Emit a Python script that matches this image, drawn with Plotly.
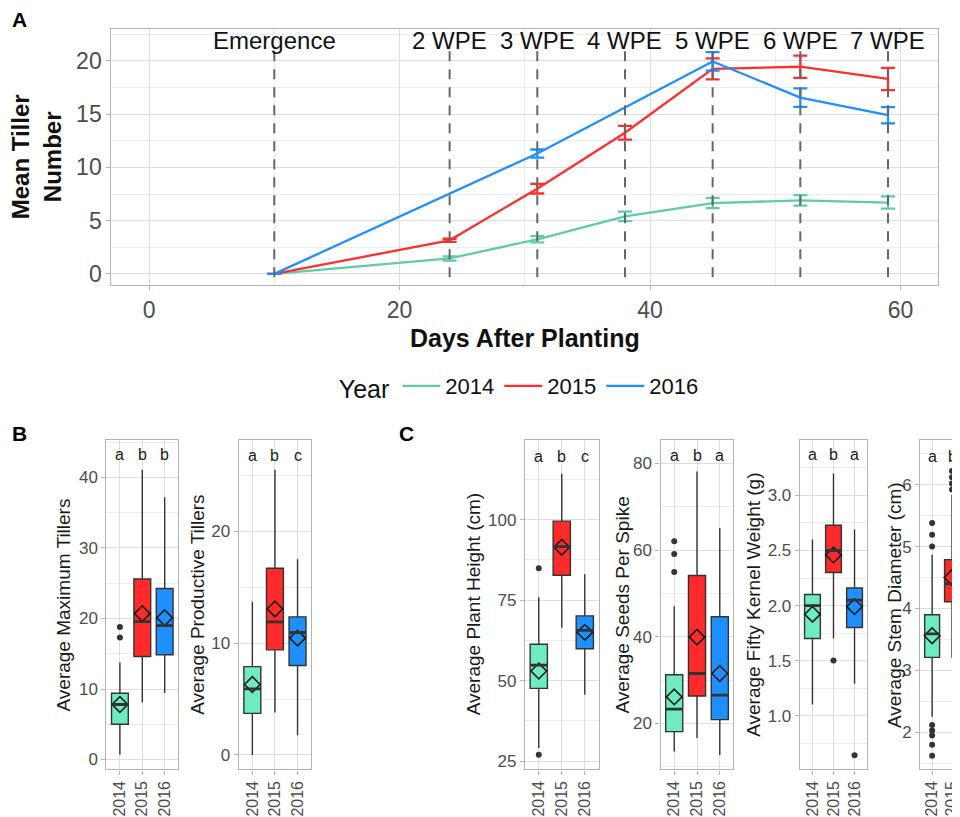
import plotly.graph_objects as go

# The page body has an 8px default margin, so the figure is drawn 8px smaller and
# all reference pixel positions are shifted by that offset.
OFF = 8
W, H = 960 - OFF, 817 - OFF
FONT = "Liberation Sans, Arial, sans-serif"

# ---------------- Panel A data ----------------
years = ["2014", "2015", "2016"]
line_colors = ["#5FCCA3", "#FF2E2E", "#1E8FFF"]
box_colors = ["#6EEBC3", "#FF2A2A", "#1E8FFF"]

days_2014 = [10, 24, 31, 38, 45, 52, 59]
tiller_2014 = [0, 1.45, 3.25, 5.4, 6.65, 6.9, 6.7]
err_2014 = [0, 0.2, 0.3, 0.45, 0.48, 0.5, 0.58]

days_2015 = [10, 24, 31, 38, 45, 52, 59]
tiller_2015 = [0, 3.15, 8.0, 13.25, 19.25, 19.45, 18.3]
err_2015 = [0, 0.15, 0.45, 0.65, 0.98, 1.04, 1.04]

days_2016 = [10, 31, 45, 52, 59]
tiller_2016 = [0, 11.3, 19.95, 16.55, 14.9]
err_2016 = [0, 0.38, 0.87, 0.87, 0.76]

stage_days = [10, 24, 31, 38, 45, 52, 59]
stage_labels = ["Emergence", "2 WPE", "3 WPE", "4 WPE", "5 WPE", "6 WPE", "7 WPE"]

# ---------------- Panel B / C box data ----------------
max_tillers = dict(
    q1=[5.0, 14.6, 14.85], med=[7.8, 19.55, 19.0], q3=[9.4, 25.6, 24.25],
    lo=[0.7, 8.1, 9.45], hi=[13.75, 41.1, 37.2], mean=[7.8, 20.7, 20.1],
    out=[[17.3, 18.8], [], []], letters=["a", "b", "b"])
prod_tillers = dict(
    q1=[3.72, 9.4, 8.0], med=[5.9, 11.9, 10.95], q3=[7.9, 16.7, 12.35],
    lo=[0.0, 3.8, 1.75], hi=[13.7, 25.5, 17.5], mean=[6.3, 13.05, 10.45],
    out=[[], [], []], letters=["a", "b", "c"])
plant_height = dict(
    q1=[47.6, 82.7, 59.9], med=[54.8, 91.6, 65.6], q3=[61.3, 99.5, 70.1],
    lo=[29.1, 66.4, 45.6], hi=[75.9, 114.2, 83.0], mean=[53.0, 91.4, 65.0],
    out=[[84.9, 27.0], [], []], letters=["a", "b", "c"])
seeds_spike = dict(
    q1=[18.1, 26.3, 20.85], med=[23.3, 31.5, 26.5], q3=[31.2, 54.1, 44.6],
    lo=[13.5, 16.6, 12.7], hi=[47.0, 78.1, 65.1], mean=[26.1, 39.9, 31.5],
    out=[[54.9, 59.1, 62.0], [], []], letters=["a", "b", "a"])
kernel_weight = dict(
    q1=[1.70, 2.30, 1.80], med=[2.0, 2.50, 2.05], q3=[2.10, 2.73, 2.16],
    lo=[1.10, 1.70, 1.29], hi=[2.60, 3.20, 2.69], mean=[1.92, 2.46, 1.99],
    out=[[], [1.5], [0.64]], letters=["a", "b", "a"])
stem_years = ["2014", "2015"]
stem_diameter = dict(
    q1=[3.21, 4.11], med=[3.59, 4.40], q3=[3.90, 4.79],
    lo=[2.25, 3.2], hi=[4.87, 5.84], mean=[3.56, 4.5],
    out=[[5.0, 5.19, 5.38, 2.12, 2.03, 1.95, 1.80, 1.62], [5.92, 6.02, 6.12, 6.22]],
    letters=["a", "b"])

# ---------------- layout helpers ----------------
def px_x(p):
    return (p - OFF) / W

def px_y(p):
    return 1 - (p - OFF) / H

GRID = "#DEDEDE"
MINOR = "#EDEDED"
BORDER = "#B3B3B3"
TICKC = "#4D4D4D"
BOXLINE = "#333333"

def base_axis(**kw):
    d = dict(showline=True, mirror=True, linecolor=BORDER, linewidth=1.3,
             showgrid=True, gridcolor=GRID, gridwidth=1, zeroline=False,
             ticks="outside", ticklen=4, tickcolor=BORDER, tickwidth=1,
             tickfont=dict(family=FONT, color=TICKC))
    d.update(kw)
    return d

fig = go.Figure()
annotations = []
shapes = []
layout_axes = {}

# Panel A lines
series = [(days_2014, tiller_2014, err_2014), (days_2015, tiller_2015, err_2015),
          (days_2016, tiller_2016, err_2016)]
for yr, col, (dx, vy, ey) in zip(years, line_colors, series):
    fig.add_trace(go.Scatter(
        x=dx, y=vy, mode="lines", name=yr,
        line=dict(color=col, width=2.3),
        error_y=dict(type="data", array=ey, color=col, thickness=2.3, width=7),
        xaxis="x", yaxis="y"))

# Panels B/C
panels = [
    ("2", max_tillers, years, [-1.41, 45.3], dict(tickvals=[0, 10, 20, 30, 40]), 5, 43.2,
     [107, 179], "Average Maximum Tillers", 64),
    ("3", prod_tillers, years, [-1.30, 28.16], dict(tickvals=[0, 10, 20]), 5, 26.8,
     [240, 312.7], "Average Productive Tillers", 199),
    ("4", plant_height, years, [22.44, 124.66], dict(tickvals=[25, 50, 75, 100]), 12.5, 119.7,
     [527.7, 601.7], "Average Plant Height (cm)", 476),
    ("5", seeds_spike, years, [9.36, 85.36], dict(tickvals=[20, 40, 60, 80]), 10, 81.8,
     [664, 737.3], "Average Seeds Per Spike", 626),
    ("6", kernel_weight, years, [0.511, 3.503],
     dict(tickvals=[1.0, 1.5, 2.0, 2.5, 3.0], ticktext=["1.0", "1.5", "2.0", "2.5", "3.0"]),
     0.25, 3.37, [804, 871.7], "Average Fifty Kernel Weight (g)", 758),
    ("7", stem_diameter, stem_years, [1.40, 6.72], dict(tickvals=[2, 3, 4, 5, 6]), 0.5, 6.46,
     [925, 960], "Average Stem Diameter (cm)", 899),
]

BY0, BY1 = 441.7, 772.3
BOXW = 0.75

for (n, d, cats, yr_range, ticks, minor_dt, letter_y, xpx, title, title_x) in panels:
    xa, ya = "x" + n, "y" + n
    for i, c in enumerate(cats):
        fig.add_trace(go.Box(
            x=[c], q1=[d["q1"][i]], median=[d["med"][i]], q3=[d["q3"][i]],
            lowerfence=[d["lo"][i]], upperfence=[d["hi"][i]],
            fillcolor=box_colors[i], line=dict(color=BOXLINE, width=1.4),
            width=BOXW, whiskerwidth=0, boxpoints=False, showlegend=False,
            hoverinfo="skip", xaxis=xa, yaxis=ya))
        # thicker median line (ggplot style)
        shapes.append(dict(type="line", xref=xa, yref=ya,
                           x0=i - BOXW / 2, x1=i + BOXW / 2,
                           y0=d["med"][i], y1=d["med"][i],
                           line=dict(color=BOXLINE, width=2.8), layer="above"))
        if d["out"][i]:
            fig.add_trace(go.Scatter(
                x=[c] * len(d["out"][i]), y=d["out"][i], mode="markers",
                marker=dict(color="#333333", size=6), showlegend=False,
                hoverinfo="skip", xaxis=xa, yaxis=ya))
        annotations.append(dict(x=i, y=letter_y, xref=xa, yref=ya, text=d["letters"][i],
                                showarrow=False, xanchor="center", yanchor="middle",
                                font=dict(family=FONT, size=16, color="#1a1a1a")))
    fig.add_trace(go.Scatter(
        x=cats, y=d["mean"], mode="markers",
        marker=dict(symbol="diamond-open", size=12, color="#1a1a1a", line=dict(width=1.6)),
        showlegend=False, hoverinfo="skip", xaxis=xa, yaxis=ya))

    if n == "7":
        xr = [-0.6, -0.6 + 35 / 20.0]
    else:
        xr = [-0.6, 2.6]
    layout_axes["xaxis" + n] = base_axis(
        domain=[px_x(xpx[0]), min(1.0, px_x(xpx[1]))], anchor=ya, type="category",
        categoryorder="array", categoryarray=cats, range=xr,
        tickangle=-90, tickfont=dict(family=FONT, size=16, color=TICKC))
    ya_d = base_axis(domain=[px_y(BY1), px_y(BY0)], anchor=xa, range=yr_range,
                     tickfont=dict(family=FONT, size=17, color=TICKC),
                     minor=dict(dtick=minor_dt, tick0=0, showgrid=True, gridcolor=MINOR, ticks=""))
    if n == "7":
        ya_d["mirror"] = False
    ya_d.update(ticks)
    layout_axes["yaxis" + n] = ya_d
    annotations.append(dict(x=px_x(title_x), y=px_y((BY0 + BY1) / 2), xref="paper", yref="paper",
                            text=title, textangle=-90, showarrow=False,
                            xanchor="center", yanchor="middle",
                            font=dict(family=FONT, size=19, color="#1a1a1a")))

# Panel A axes
layout_axes["xaxis"] = base_axis(domain=[px_x(112), px_x(943)], anchor="y", range=[-3, 63],
                                 tickvals=[0, 20, 40, 60],
                                 tickfont=dict(family=FONT, size=23, color=TICKC),
                                 minor=dict(dtick=10, tick0=0, showgrid=True, gridcolor=MINOR, ticks=""))
layout_axes["yaxis"] = base_axis(domain=[px_y(286), px_y(29)], anchor="x", range=[-1.04, 23.0],
                                 tickvals=[0, 5, 10, 15, 20],
                                 tickfont=dict(family=FONT, size=23, color=TICKC),
                                 minor=dict(dtick=2.5, tick0=0, showgrid=True, gridcolor=MINOR, ticks=""))

# stage dashed lines (drawn from the top down so the dash pattern starts under the label)
for sd, sl in zip(stage_days, stage_labels):
    shapes.append(dict(type="line", xref="x", yref="y", x0=sd, x1=sd, y0=20.9, y1=-1.04,
                       line=dict(color="#666666", width=2, dash="10px,8px"), layer="above"))
    annotations.append(dict(x=sd, y=21.9, xref="x", yref="y", text=sl, showarrow=False,
                            xanchor="center", yanchor="middle",
                            font=dict(family=FONT, size=24, color="#111111")))

# titles for panel A
annotations.append(dict(x=px_x(37), y=px_y(157), xref="paper", yref="paper",
                        text="<b>Mean Tiller<br>Number</b>", textangle=-90, showarrow=False,
                        xanchor="center", yanchor="middle",
                        font=dict(family=FONT, size=24, color="#111111")))
annotations.append(dict(x=px_x(528), y=px_y(339), xref="paper", yref="paper",
                        text="<b>Days After Planting</b>", showarrow=False,
                        xanchor="center", yanchor="middle",
                        font=dict(family=FONT, size=25, color="#111111")))

# panel letters
for lt, lx, ly in [("A", 20, 20), ("B", 20, 435), ("C", 409, 435)]:
    annotations.append(dict(x=px_x(lx), y=px_y(ly), xref="paper", yref="paper",
                            text="<b>" + lt + "</b>", showarrow=False,
                            xanchor="center", yanchor="middle",
                            font=dict(family=FONT, size=21, color="#000000")))

fig.update_layout(
    width=W, height=H, margin=dict(l=0, r=0, t=0, b=0),
    paper_bgcolor="white", plot_bgcolor="white",
    font=dict(family=FONT),
    boxmode="overlay",
    showlegend=True,
    legend=dict(orientation="h", x=px_x(523), xanchor="center", y=px_y(388), yanchor="middle",
                title=dict(text="Year", font=dict(family=FONT, size=25, color="#111111"), side="left"),
                font=dict(family=FONT, size=22, color="#111111"), bgcolor="rgba(0,0,0,0)",
                itemwidth=38),
    annotations=annotations,
    shapes=shapes,
    **layout_axes)

fig.write_html("out.html")
